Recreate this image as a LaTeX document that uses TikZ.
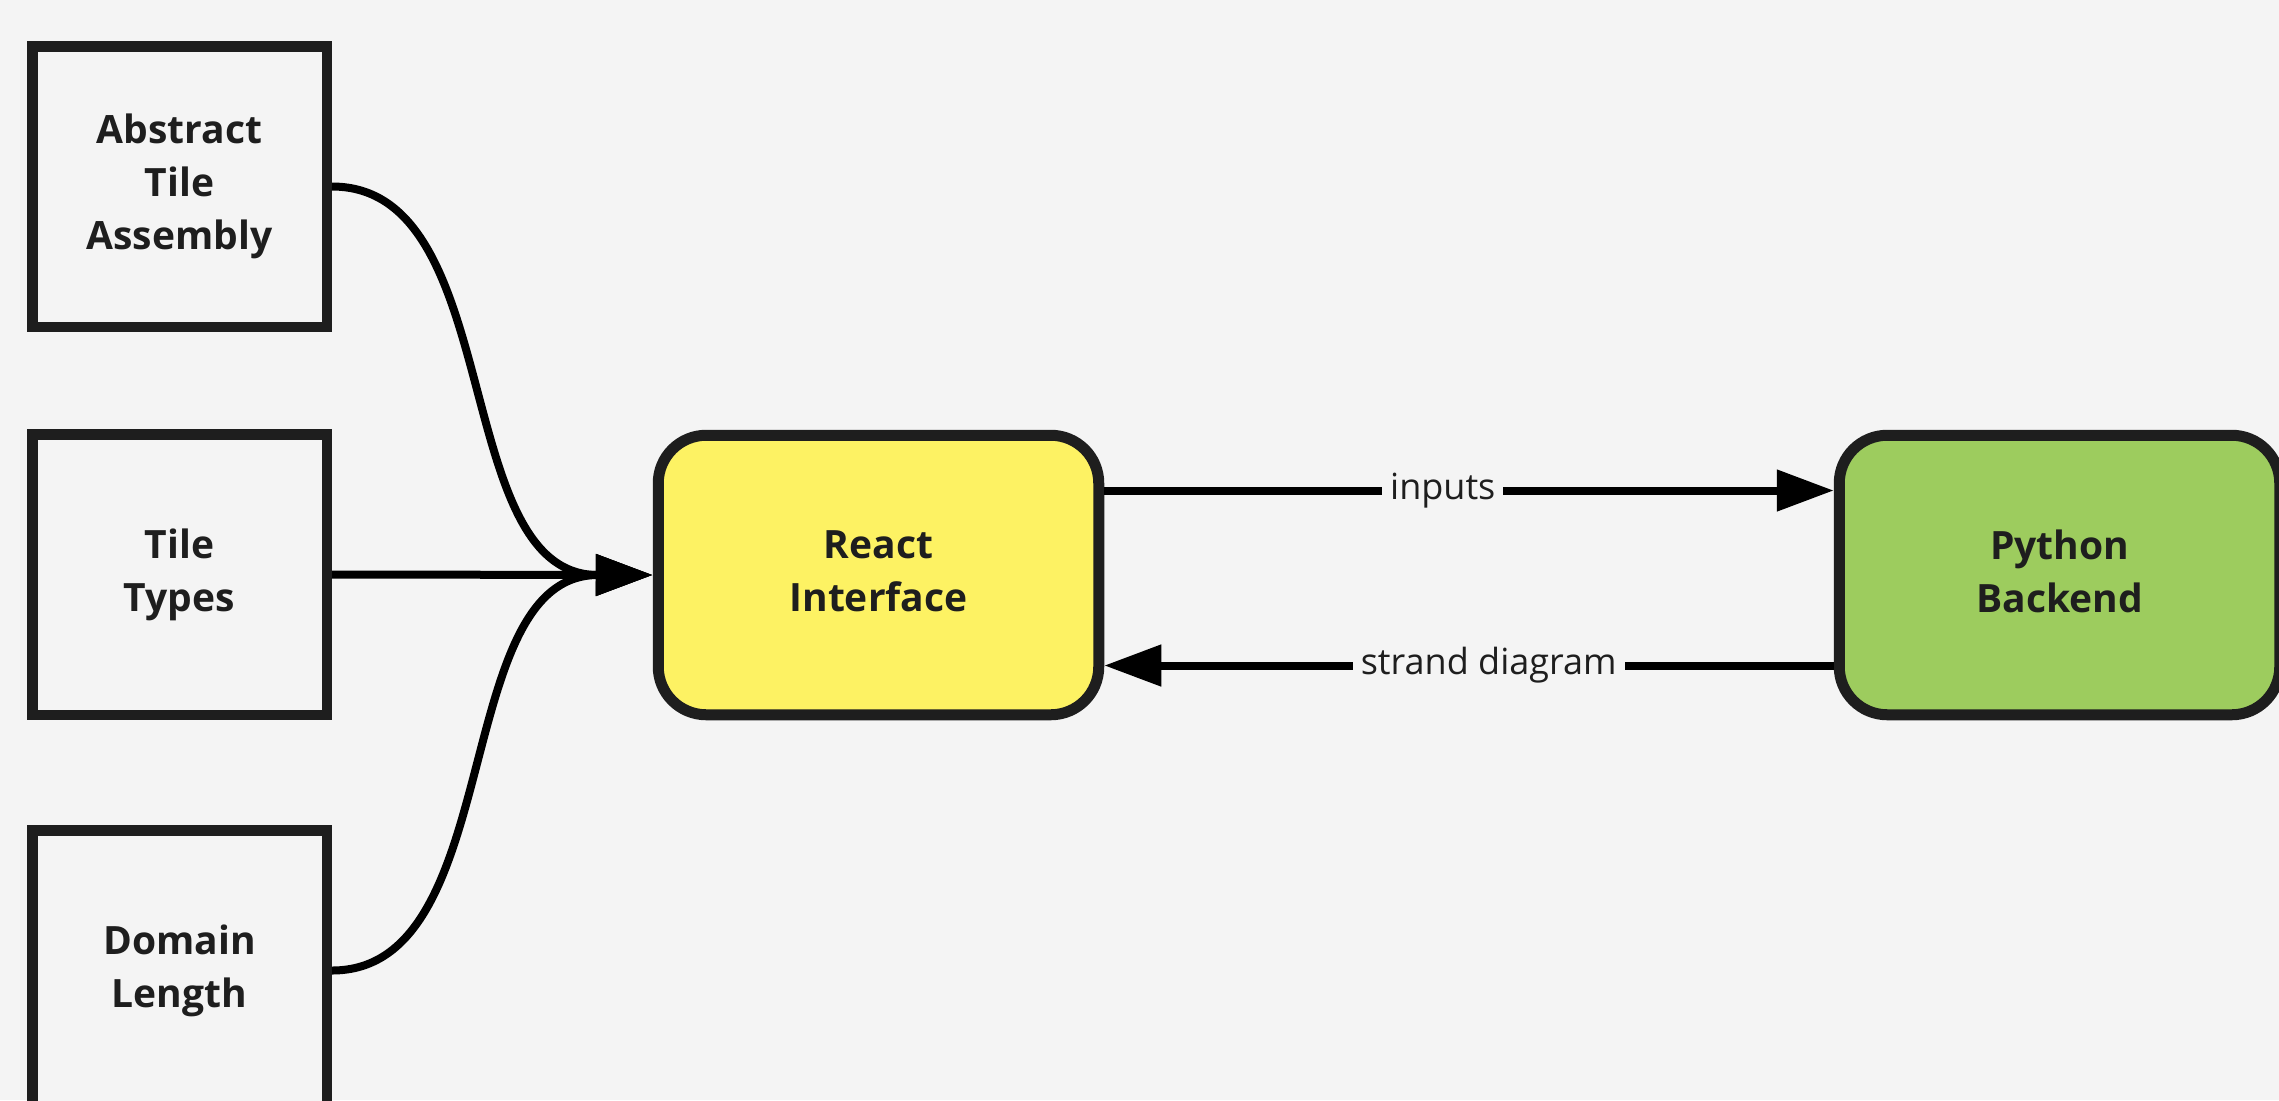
\documentclass[tikz,border=0pt]{standalone}
\usepackage{fontspec}
\setmainfont{Open Sans}
\usetikzlibrary{arrows.meta}

\definecolor{canvas}{HTML}{F4F4F4}
\definecolor{ink}{HTML}{1E1E1E}
\definecolor{reactfill}{HTML}{FDF263}
\definecolor{pyfill}{HTML}{9DCC5E}

\newcommand{\boxtextfont}{\bfseries\fontsize{19.5pt}{26.5pt}\selectfont}
\newcommand{\edgetextfont}{\fontsize{18pt}{22pt}\selectfont}

\begin{document}
\begin{tikzpicture}[x=0.5pt,y=-0.5pt,
  inbox/.style={draw=ink, line width=5.25pt, fill=canvas,
    minimum width=147.25pt, minimum height=140.25pt,
    align=center, font=\boxtextfont, text=ink, inner sep=0pt},
  service/.style={draw=ink, line width=5.5pt, rounded corners=24pt,
    minimum width=220.25pt, minimum height=139.75pt,
    align=center, font=\boxtextfont, text=ink, inner sep=0pt,
    execute at end node={\rule[-4pt]{0pt}{0pt}}},
  flow/.style={draw=black, line width=4pt,
    -{Triangle[length=28.5pt,width=20pt]}},
  flowlabel/.style={fill=canvas, font=\edgetextfont, text=ink,
    inner xsep=4pt, inner ysep=1pt}
]
  % page and background
  \useasboundingbox (0,0) rectangle (2279,1100);
  \clip (0,0) rectangle (2279,1100);
  \fill[canvas] (0,0) rectangle (2279,1100);

  % input boxes
  \node[inbox] (abs)    at (179.5,186.5) {Abstract\\Tile\\Assembly};
  \node[inbox] (types)  at (179.5,574.5) {Tile\\Types};
  \node[inbox] (domain) at (179.5,970.5) {Domain\\Length};

  % services
  \node[service, fill=reactfill] (react)  at (878.5,575)  {React\\Interface};
  \node[service, fill=pyfill]    (python) at (2059.5,575) {Python\\Backend};

  % inputs into the interface
  \draw[flow] (abs.east) .. controls +(175,0) and +(-204,0) .. (react.west);
  \draw[flow] (types.east) -- (react.west);
  \draw[flow] (domain.east) .. controls +(175,0) and +(-204,0) .. (react.west);

  % exchange between interface and backend
  \draw[flow] ([yshift=42.25pt]react.east) --
    node[flowlabel, pos=0.464] {inputs} ([yshift=42.25pt]python.west);
  \draw[flow] ([yshift=-45.25pt]python.west) --
    node[flowlabel, pos=0.473] {strand diagram} ([yshift=-45.25pt]react.east);
\end{tikzpicture}
\end{document}
